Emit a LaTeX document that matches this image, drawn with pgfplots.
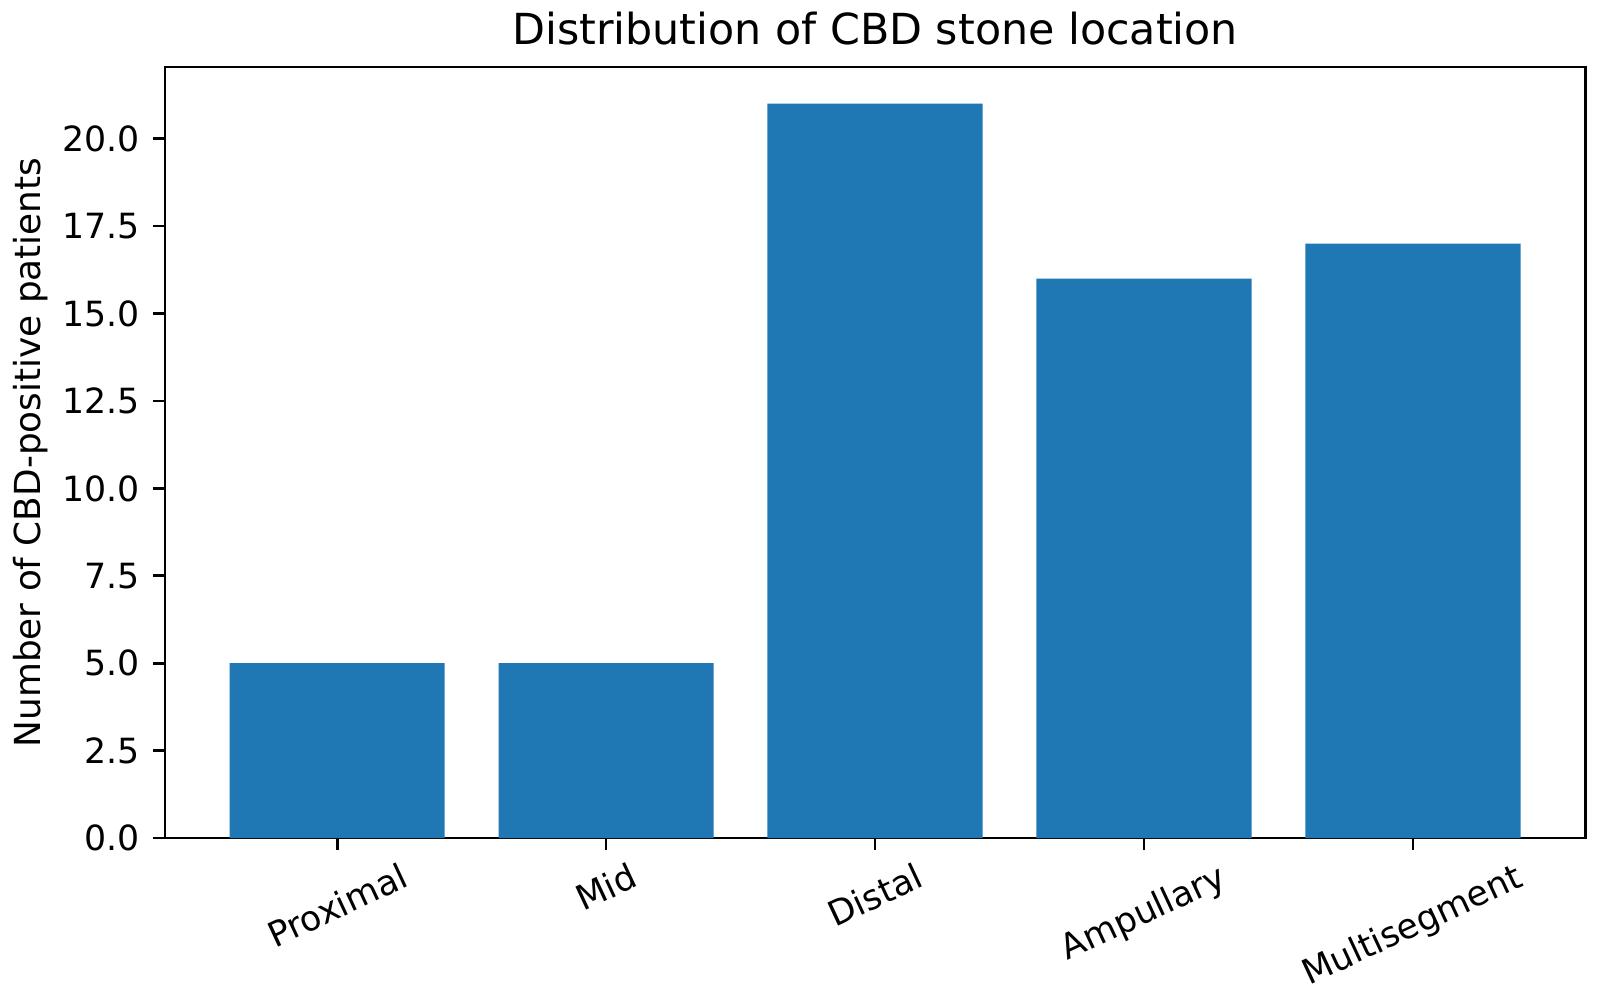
\documentclass[border=0pt]{standalone}
\usepackage{fontspec}
\setmainfont{DejaVu Sans}
\usepackage{graphicx}
\usepackage{pgfplots}
\pgfplotsset{compat=1.18}
\definecolor{mplblue}{HTML}{1F77B4}

\begin{document}
\begin{tikzpicture}
\begin{axis}[
    scale only axis,
    width=511.2pt, height=277.6pt,
    xmin=-0.64, xmax=4.64,
    ymin=0, ymax=22.05,
    ybar, bar width=0.8, bar shift=0pt,
    xtick={0,1,2,3,4},
    xticklabels={\rotatebox{25}{Proximal}, \rotatebox{25}{Mid}, \rotatebox{25}{Distal},
                 \rotatebox{25}{Ampullary}, \rotatebox{25}{Multisegment}},
    ytick={0,2.5,...,20},
    /pgf/number format/assume math mode=true,
    yticklabel style={/pgf/number format/fixed, /pgf/number format/fixed zerofill,
                      /pgf/number format/precision=1, inner sep=0pt, xshift=-4.5pt},
    xticklabel style={anchor=north, inner sep=0pt, yshift=-4pt},
    tick label style={font=\fontsize{12.5}{15}\selectfont},
    ylabel style={font=\fontsize{12.9}{15}\selectfont, at={(rel axis cs:-0.088,0.5)}, anchor=base},
    every axis title shift=0pt,
    title style={font=\fontsize{15.4}{18}\selectfont, anchor=base, at={(0.5,1)}, yshift=7.9pt},
    title={Distribution of CBD stone location},
    ylabel={Number of CBD-positive patients},
    tick align=outside,
    major tick length=4.3pt,
    xtick pos=lower, ytick pos=left,
    tick style={line width=1pt, black},
    axis line style={line width=1pt},
]
\addplot[fill=mplblue, draw=none] coordinates {(0,5) (1,5) (2,21) (3,16) (4,17)};
\coordinate (SW) at (rel axis cs:0,0);
\coordinate (NE) at (rel axis cs:1,1);
\end{axis}
\pgfresetboundingbox
\path ([xshift=-59.4pt,yshift=-59pt]SW) rectangle ([xshift=5pt,yshift=24.1pt]NE);
\end{tikzpicture}
\end{document}
